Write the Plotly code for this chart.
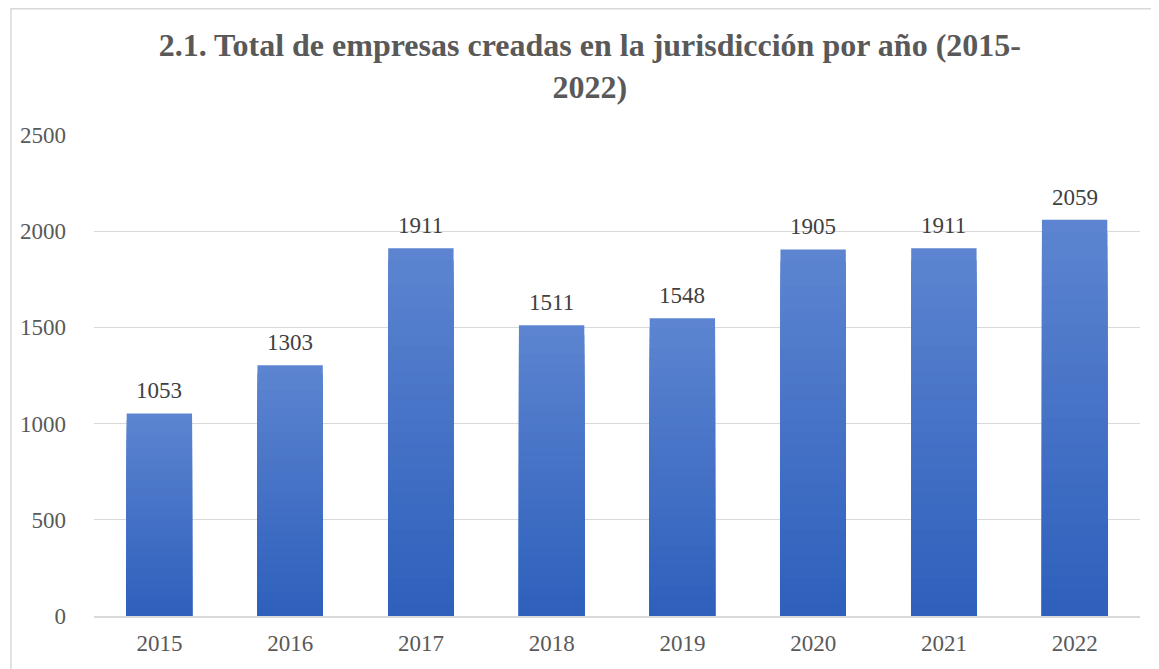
import plotly.graph_objects as go

years = ["2015", "2016", "2017", "2018", "2019", "2020", "2021", "2022"]
values = [1053, 1303, 1911, 1511, 1548, 1905, 1911, 2059]
y_ticks = [0, 500, 1000, 1500, 2000, 2500]

title_text = "2.1. Total de empresas creadas en la jurisdicción por año (2015-<br>2022)"

top_rgb = (92, 132, 208)
bot_rgb = (46, 96, 188)
N = 30

fig = go.Figure()
for k in range(N):
    f = 1 - k / N
    t = k / (N - 1)
    c = tuple(round(top_rgb[i] + (bot_rgb[i] - top_rgb[i]) * t) for i in range(3))
    fig.add_trace(go.Bar(
        x=years, y=[v * f for v in values],
        marker=dict(color="rgb(%d,%d,%d)" % c, line=dict(width=0)),
        hoverinfo="skip" if k else None, showlegend=False,
    ))

for i, v in enumerate(values):
    fig.add_annotation(x=i, y=v, text=str(v), showarrow=False,
                       yanchor="bottom", yshift=8,
                       font=dict(family="Liberation Serif", size=23, color="#404040"))

fig.add_shape(type="rect", xref="paper", yref="paper",
              x0=-0.0794, x1=1.2, y0=-0.3, y1=1.2625,
              line=dict(color="#D9D9D9", width=1.5), fillcolor="rgba(0,0,0,0)", layer="below")

fig.update_layout(
    width=1159, height=669,
    margin=dict(l=84, r=27, t=127, b=61),
    paper_bgcolor="white", plot_bgcolor="white",
    barmode="overlay", bargap=0.5,
    title=dict(text=title_text, x=0.502, xref="container", xanchor="center",
               y=1 - 48 / 669, yref="container", yanchor="top",
               font=dict(family="Liberation Serif", size=32, color="#595959", weight="bold")),
    xaxis=dict(type="category", range=[-0.5, 7.5], showgrid=False, showline=True,
               linecolor="#D9D9D9", linewidth=2,
               ticks="", tickfont=dict(family="Liberation Serif", size=23, color="#595959"),
               ticklabelstandoff=5),
    yaxis=dict(range=[0, 2500], tickvals=y_ticks, showgrid=True, gridcolor="#D9D9D9",
               gridwidth=1, zeroline=False, showline=False, ticks="",
               tickfont=dict(family="Liberation Serif", size=23, color="#595959"),
               ticklabelstandoff=27),
)

fig.write_html("out.html")
